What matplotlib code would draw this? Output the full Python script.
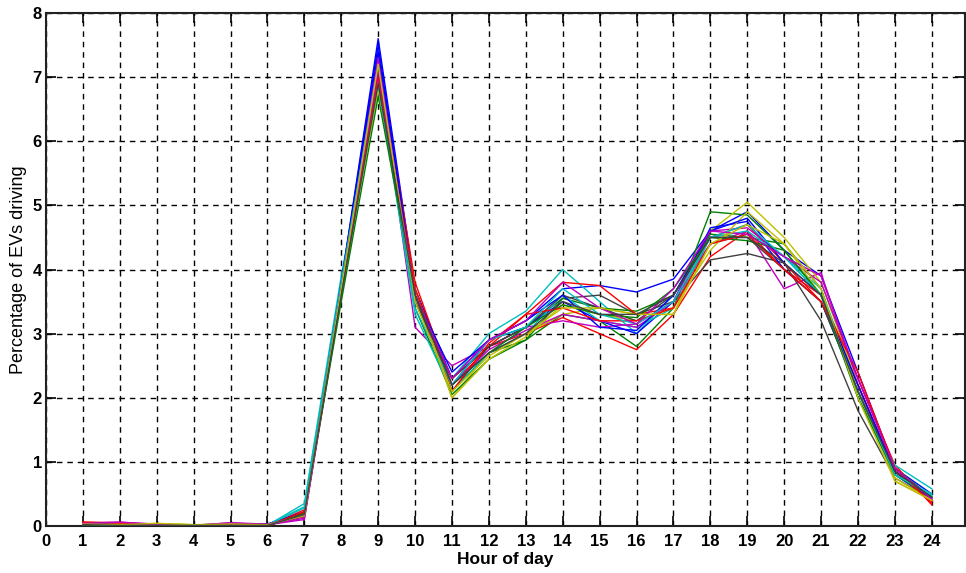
import matplotlib
matplotlib.use("Agg")
import matplotlib.pyplot as plt

plt.rcParams['font.family'] = ['Liberation Sans', 'DejaVu Sans']

hours = list(range(1, 25))
x_ticks = list(range(0, 25))
y_ticks = list(range(0, 9))

# MATLAB classic colour order
colors = ['#0000ff', '#008000', '#ff0000', '#00bfbf', '#bf00bf', '#bfbf00', '#404040']

s01 = [0.03, 0.02, 0.01, 0.01, 0.01, 0.02, 0.20, 3.80, 7.60, 3.70, 2.30, 2.90, 3.20, 3.70, 3.75, 3.65, 3.85, 4.60, 4.90, 4.30, 3.90, 2.40, 0.90, 0.50]
s02 = [0.02, 0.02, 0.02, 0.01, 0.02, 0.01, 0.15, 3.60, 6.90, 3.60, 2.10, 2.70, 2.90, 3.30, 3.20, 2.80, 3.40, 4.90, 4.85, 4.30, 3.60, 2.20, 0.85, 0.40]
s03 = [0.05, 0.05, 0.02, 0.01, 0.01, 0.01, 0.15, 3.70, 7.30, 3.80, 2.20, 2.80, 3.00, 3.25, 3.00, 2.75, 3.30, 4.20, 4.60, 4.00, 3.60, 2.30, 0.95, 0.33]
s04 = [0.03, 0.01, 0.01, 0.01, 0.02, 0.01, 0.35, 3.90, 7.00, 3.50, 2.30, 3.00, 3.35, 4.00, 3.50, 3.00, 3.60, 4.40, 4.55, 4.20, 3.60, 2.00, 0.95, 0.58]
s05 = [0.02, 0.05, 0.03, 0.01, 0.04, 0.02, 0.10, 3.60, 7.20, 3.10, 2.50, 2.80, 3.10, 3.20, 3.10, 3.15, 3.50, 4.40, 4.60, 3.70, 3.95, 2.20, 0.85, 0.38]
s06 = [0.02, 0.02, 0.03, 0.02, 0.02, 0.03, 0.15, 3.70, 6.80, 3.60, 2.00, 2.70, 3.00, 3.30, 3.40, 3.30, 3.30, 4.60, 5.05, 4.50, 3.80, 2.20, 0.70, 0.40]
s07 = [0.01, 0.01, 0.01, 0.01, 0.01, 0.01, 0.15, 3.70, 7.10, 3.60, 2.10, 2.80, 3.10, 3.55, 3.60, 3.30, 3.50, 4.15, 4.25, 4.10, 3.20, 1.80, 0.75, 0.42]
s08 = [0.04, 0.03, 0.02, 0.01, 0.01, 0.02, 0.18, 3.80, 7.40, 3.60, 2.40, 2.90, 3.10, 3.50, 3.20, 3.00, 3.50, 4.65, 4.75, 4.00, 3.50, 2.10, 0.80, 0.42]
s09 = [0.03, 0.02, 0.01, 0.02, 0.01, 0.01, 0.20, 3.60, 7.00, 3.40, 2.05, 2.60, 2.90, 3.55, 3.40, 3.35, 3.60, 4.55, 4.50, 4.40, 3.70, 2.00, 0.90, 0.45]
s10 = [0.06, 0.04, 0.02, 0.01, 0.02, 0.01, 0.25, 3.70, 7.20, 3.50, 2.30, 2.80, 3.30, 3.80, 3.75, 3.30, 3.40, 4.50, 4.70, 4.10, 3.50, 2.20, 0.85, 0.38]
s11 = [0.02, 0.02, 0.02, 0.02, 0.01, 0.02, 0.30, 3.80, 6.90, 3.30, 2.10, 2.70, 3.00, 3.60, 3.20, 3.10, 3.40, 4.50, 4.60, 4.20, 3.70, 2.10, 0.80, 0.50]
s12 = [0.05, 0.06, 0.03, 0.01, 0.05, 0.02, 0.12, 3.70, 7.30, 3.50, 2.20, 2.75, 3.05, 3.30, 3.20, 3.10, 3.50, 4.60, 4.65, 4.20, 3.80, 2.30, 0.90, 0.42]
s13 = [0.02, 0.03, 0.04, 0.02, 0.03, 0.03, 0.18, 3.60, 7.00, 3.70, 2.00, 2.60, 2.95, 3.45, 3.30, 3.20, 3.40, 4.30, 4.90, 4.40, 3.60, 2.10, 0.75, 0.40]
s14 = [0.01, 0.02, 0.01, 0.01, 0.01, 0.01, 0.20, 3.70, 7.10, 3.50, 2.30, 2.80, 3.10, 3.60, 3.40, 3.20, 3.60, 4.50, 4.50, 4.00, 3.50, 2.10, 0.85, 0.45]
s15 = [0.03, 0.02, 0.02, 0.01, 0.02, 0.03, 0.22, 3.80, 7.50, 3.60, 2.20, 2.90, 3.20, 3.60, 3.10, 3.05, 3.60, 4.60, 4.80, 4.10, 3.60, 2.20, 0.85, 0.45]
s16 = [0.02, 0.02, 0.01, 0.01, 0.01, 0.01, 0.20, 3.50, 6.70, 3.60, 2.20, 2.70, 3.10, 3.45, 3.30, 3.25, 3.70, 4.50, 4.45, 4.30, 3.60, 2.00, 0.80, 0.45]
s17 = [0.06, 0.05, 0.02, 0.01, 0.02, 0.01, 0.22, 3.70, 7.00, 3.70, 2.10, 2.85, 3.30, 3.40, 3.20, 3.20, 3.40, 4.40, 4.55, 4.00, 3.50, 2.40, 0.90, 0.35]
s18 = [0.03, 0.01, 0.01, 0.02, 0.01, 0.02, 0.28, 3.80, 7.20, 3.40, 2.20, 2.90, 3.10, 3.70, 3.30, 3.15, 3.50, 4.50, 4.70, 4.20, 3.60, 2.10, 0.80, 0.48]
s19 = [0.04, 0.06, 0.02, 0.01, 0.05, 0.03, 0.15, 3.70, 7.10, 3.60, 2.30, 2.90, 3.20, 3.80, 3.40, 3.15, 3.70, 4.60, 4.55, 4.20, 3.90, 2.30, 0.90, 0.42]
s20 = [0.03, 0.02, 0.04, 0.02, 0.03, 0.02, 0.16, 3.70, 7.20, 3.50, 2.10, 2.65, 3.00, 3.40, 3.40, 3.30, 3.30, 4.40, 4.70, 4.40, 3.70, 2.00, 0.70, 0.40]
s21 = [0.02, 0.01, 0.01, 0.01, 0.01, 0.01, 0.18, 3.60, 6.90, 3.60, 2.20, 2.70, 3.00, 3.50, 3.30, 3.30, 3.60, 4.50, 4.50, 4.10, 3.60, 2.10, 0.85, 0.45]

series = [s01, s02, s03, s04, s05, s06, s07, s08, s09, s10, s11, s12, s13, s14,
          s15, s16, s17, s18, s19, s20, s21]

fig = plt.figure(figsize=(9.66, 5.73), dpi=100)
ax = fig.add_axes([46/966, 1-526/573, (965-46)/966, (526-13)/573])

for i, s in enumerate(series):
    ax.plot(hours, s, color=colors[i % 7], lw=1.0, zorder=3)

ax.set_xlim(0, 24.9)
ax.set_ylim(0, 8)
ax.set_xticks(x_ticks)
ax.set_yticks(y_ticks)
ax.set_xticklabels([str(t) for t in x_ticks], fontsize=12, fontweight='bold')
ax.set_yticklabels([str(t) for t in y_ticks], fontsize=12, fontweight='bold')
ax.grid(True, color='black', linestyle=(0, (4, 3.5)), lw=1.0, zorder=1)
ax.tick_params(direction='in', length=7, width=1.2, top=True, right=True,
               colors='black')
ax.tick_params(axis='x', pad=6)
ax.tick_params(axis='y', pad=3)
for sp in ax.spines.values():
    sp.set_linewidth(1.5)
    sp.set_color('#222222')

ax.set_xlabel('Hour of day', fontsize=12.5, fontweight='bold', labelpad=2)
ax.set_ylabel('Percentage of EVs driving', fontsize=13, labelpad=4)

fig.savefig('out.png', dpi=100)
